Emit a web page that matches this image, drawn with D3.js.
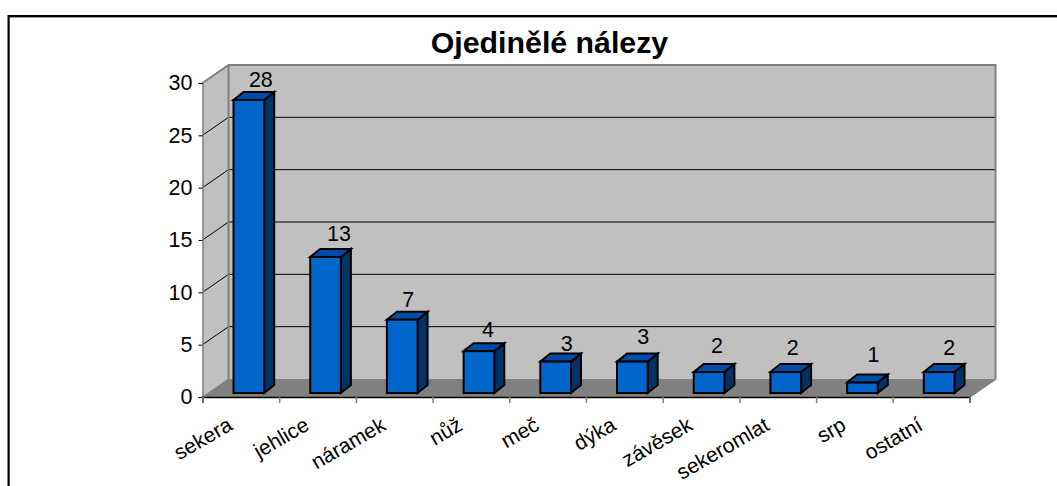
<!DOCTYPE html>
<html>
<head>
<meta charset='utf-8' />
<title>Ojedinělé nálezy</title>
<style>
  html, body { margin: 0; padding: 0; background: #fff; overflow: hidden; }
  svg { display: block; }
  text { font-family: "Liberation Sans", Arial, sans-serif; fill: #000; }
</style>
</head>
<body>
<svg id="chart" width="1057" height="486"></svg>
<script src="https://d3js.org/d3.v7.min.js"></script>
<script>
const categories = ["sekera", "jehlice", "náramek", "nůž", "meč", "dýka", "závěsek", "sekeromlat", "srp", "ostatní"];
const counts = [28, 13, 7, 4, 3, 3, 2, 2, 1, 2];
const yTicks = [0, 5, 10, 15, 20, 25, 30];
const chartTitle = "Ojedinělé nálezy";

const plotLeft = 202.5, plotRight = 969.5, plotTop = 83, plotBottom = 397;
// shift of the back wall against the front plane
const wallDx = 26, wallDy = -18;
// bar box: where it sits on the floor and how deep it is
const barDx = 8, barDy = -4, depthDx = 10, depthDy = -8;
// the value labels do not sit evenly above the bars in the original
const labelNudgeX = [0, 1.5, -6, -3, -1, -1, -4, -5, -1, -2];
const labelNudgeY = [1, -2, 1, 0, 3, -4, -5, -3, -7, -3];

const svg = d3.select("#chart");

const x = d3.scaleBand().domain(categories).range([plotLeft, plotRight]).paddingInner(0.6).paddingOuter(0.3);
const xEdge = d3.scaleLinear().domain([0, categories.length]).range([plotLeft, plotRight]);
const y = d3.scaleLinear().domain([0, 30]).range([plotBottom, plotTop]);

const poly = pts => pts.map(p => p.join(",")).join(" ");

// frame
svg.append("path").attr("d", "M9.5,486V17.5H1057").attr("fill", "none").attr("stroke", "#9a9a9a").attr("stroke-width", 1);
svg.append("path").attr("d", "M8.5,486V16H1057").attr("fill", "none").attr("stroke", "#000").attr("stroke-width", 2);

svg.append("text").attr("x", 549.5).attr("y", 53).attr("text-anchor", "middle")
  .attr("font-size", 30.3).attr("font-weight", "bold").text(chartTitle);

// side wall, back wall, floor
svg.append("polygon").attr("fill", "#c0c0c0")
  .attr("points", poly([[plotLeft, y(30)], [plotLeft + wallDx, y(30) + wallDy], [plotLeft + wallDx, y(0) + wallDy], [plotLeft, y(0)]]));
svg.append("rect").attr("x", plotLeft + wallDx).attr("y", y(30) + wallDy)
  .attr("width", plotRight - plotLeft).attr("height", y(0) - y(30))
  .attr("fill", "#c0c0c0");
svg.append("polygon").attr("fill", "#808080")
  .attr("points", poly([[plotLeft, y(0)], [plotLeft + wallDx, y(0) + wallDy], [plotRight + wallDx, y(0) + wallDy], [plotRight, y(0)]]));

// grid lines run over the side wall and the back wall
yTicks.filter(d => d > 0 && d < 30).forEach(d => {
  svg.append("polyline").attr("fill", "none").attr("stroke", "#000").attr("stroke-width", 1)
    .attr("points", poly([[plotLeft, y(d)], [plotLeft + wallDx, y(d) + wallDy], [plotRight + wallDx, y(d) + wallDy]]));
});

// wall outline
svg.append("polyline").attr("fill", "none").attr("stroke", "#808080").attr("stroke-width", 2)
  .attr("points", poly([[plotLeft, y(30)], [plotLeft + wallDx, y(30) + wallDy], [plotRight + wallDx, y(30) + wallDy], [plotRight + wallDx, y(0) + wallDy], [plotRight, y(0)]]));
svg.append("line").attr("stroke", "#808080").attr("stroke-width", 2)
  .attr("x1", plotLeft + wallDx).attr("x2", plotLeft + wallDx).attr("y1", y(30) + wallDy).attr("y2", y(0) + wallDy);
svg.append("line").attr("stroke", "#808080").attr("stroke-width", 1)
  .attr("x1", plotLeft).attr("x2", plotLeft + wallDx).attr("y1", y(0)).attr("y2", y(0) + wallDy);

// axes
const yAxis = svg.append("g").attr("transform", "translate(" + plotLeft + ",0)")
  .call(d3.axisLeft(y).tickValues(yTicks).tickSize(4).tickPadding(6));
yAxis.select(".domain").attr("stroke", "#808080").attr("stroke-width", 1.5);
yAxis.selectAll("text").attr("font-size", 21.5).attr("font-family", "Liberation Sans");

const xAxis = svg.append("g").attr("transform", "translate(0," + plotBottom + ")")
  .call(d3.axisBottom(xEdge).ticks(categories.length).tickSize(6).tickFormat(""));
xAxis.select(".domain").attr("stroke", "#000").attr("stroke-width", 1.5);
xAxis.selectAll(".tick line").attr("stroke", "#808080").attr("stroke-width", 1.5);

// category labels
svg.append("g").selectAll("text").data(categories).enter().append("text")
  .attr("text-anchor", "end")
  .attr("font-size", 21)
  .attr("transform", d => "translate(" + (x(d) + x.bandwidth() / 2 - 7) + "," + 429 + ") rotate(-30)")
  .text(d => d);

// bars
const bars = svg.append("g").selectAll("g").data(categories).enter().append("g")
  .attr("stroke", "#000").attr("stroke-width", 2).attr("stroke-linejoin", "miter");

const barLeft = d => x(d) + barDx;
const barRight = d => barLeft(d) + x.bandwidth();
const barBase = y(0) + barDy;
const barTop = (d, i) => barBase - (y(0) - y(counts[i]));

bars.append("polygon").attr("fill", "#003366")
  .attr("points", (d, i) => poly([[barRight(d), barTop(d, i)], [barRight(d) + depthDx, barTop(d, i) + depthDy], [barRight(d) + depthDx, barBase + depthDy], [barRight(d), barBase]]));
bars.append("polygon").attr("fill", "#004da8")
  .attr("points", (d, i) => poly([[barLeft(d), barTop(d, i)], [barLeft(d) + depthDx, barTop(d, i) + depthDy], [barRight(d) + depthDx, barTop(d, i) + depthDy], [barRight(d), barTop(d, i)]]));
bars.append("rect").attr("fill", "#0066cc")
  .attr("x", barLeft).attr("y", barTop)
  .attr("width", x.bandwidth()).attr("height", (d, i) => barBase - barTop(d, i));

// value labels
svg.append("g").selectAll("text").data(categories).enter().append("text")
  .attr("text-anchor", "middle").attr("font-size", 21.5)
  .attr("x", (d, i) => barLeft(d) + x.bandwidth() / 2 + 12 + labelNudgeX[i])
  .attr("y", (d, i) => barTop(d, i) + depthDy - 6 + labelNudgeY[i])
  .text((d, i) => counts[i]);
</script>
</body>
</html>
